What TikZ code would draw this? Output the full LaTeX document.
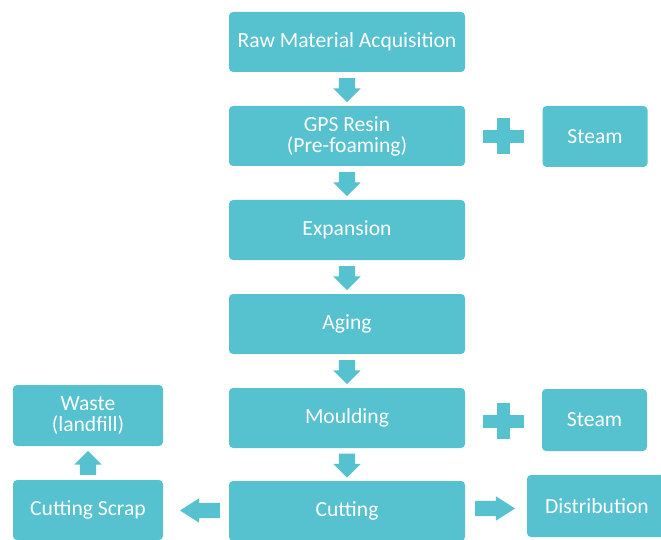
\documentclass[tikz,border=0pt]{standalone}
\usepackage{fontspec}
\setmainfont{Carlito}
\usetikzlibrary{calc,shapes.arrows}
\definecolor{boxteal}{RGB}{86,194,207}

\begin{document}
\begin{tikzpicture}[x=1pt, y=-1pt,
		step box/.style={fill=boxteal, rounded corners=4pt, text=white, align=center, inner sep=0pt, font=\fontsize{21.6}{21}\selectfont},
		main box/.style={step box, minimum width=236pt, minimum height=60pt},
		side box/.style={step box, minimum width=105pt, minimum height=61pt},
		down arrow/.style={single arrow, fill=boxteal, draw=none, inner xsep=0pt, inner ysep=8pt, minimum width=0pt, minimum height=24pt, single arrow head extend=5.5pt, single arrow tip angle=90},
		flat arrow/.style={single arrow, fill=boxteal, draw=none, inner xsep=0pt, inner ysep=7.5pt, minimum width=0pt, minimum height=40pt, single arrow head extend=4.5pt, single arrow tip angle=65},
		plussign/.pic={
			\fill[boxteal] (-20.5, -6.5) rectangle (20.5, 6.5);
			\fill[boxteal] (-6.5, -18) rectangle (6.5, 18);
		}]
		%%%%% START %%%%%
		\clip (0, 0) rectangle (661, 540);
		
		\node[main box] (raw) at (347, 42) {Raw Material Acquisition};
		\node[main box] (gps) at (347, 136) {GPS Resin\\(Pre-foaming)};
		\node[main box] (expansion) at (347, 230) {Expansion};
		\node[main box] (aging) at (347, 324) {Aging};
		\node[main box] (moulding) at (347, 418) {Moulding};
		\node[main box] (cutting) at (347, 511) {Cutting};
		
		\node[side box] (steamA) at (595, 136.5) {Steam};
		\node[side box, minimum height=62pt] (steamB) at (594.5, 420) {Steam};
		\node[step box, minimum width=150pt, minimum height=61pt] (waste) at (88, 415.5) {Waste\\(landfill)};
		\node[step box, minimum width=150pt, minimum height=60pt] (scrap) at (88, 510) {Cutting Scrap};
		\node[step box, minimum width=140pt, minimum height=62pt, text width=134pt, align=center] (distribution) at (597, 506) {Distribution};
		
		\node[down arrow, rotate=-90] (a1) at ($(raw.south)!0.5!(gps.north)+(0, -3)$) {};
		\node[down arrow, rotate=-90] (a2) at ($(gps.south)!0.5!(expansion.north)+(0, -3)$) {};
		\node[down arrow, rotate=-90] (a3) at ($(expansion.south)!0.5!(aging.north)+(0, -3)$) {};
		\node[down arrow, rotate=-90] (a4) at ($(aging.south)!0.5!(moulding.north)+(0, -3)$) {};
		\node[down arrow, rotate=-90] (a5) at ($(moulding.south)!0.5!(cutting.north)+(0, -3)$) {};
		\node[down arrow, rotate=90] (a6) at ($(scrap.north)!0.5!(waste.south)+(0, 4)$) {};
		
		\node[flat arrow, rotate=180] (a7) at ($(cutting.west)!0.5!(scrap.east)+(10, 0)$) {};
		\node[flat arrow] (a8) at ($(cutting.east)!0.5!(distribution.west)+(-7, 0)$) {};
		
		\pic at ($(gps.east)!0.5!(steamA.west)$) {plussign};
		\pic at ($(moulding.east)!0.5!(steamB.west)+(0, 2)$) {plussign};
		%%%%% END %%%%%
	\end{tikzpicture}
\end{document}
